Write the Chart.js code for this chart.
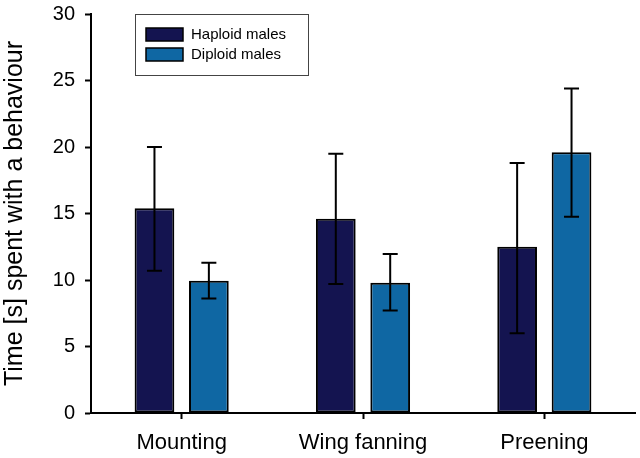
<!DOCTYPE html>
<html>
<head>
<meta charset="utf-8">
<script src="https://cdn.jsdelivr.net/npm/chart.js@4"></script>
<style>
  html, body { margin: 0; padding: 0; background: #ffffff; }
  #wrap { width: 640px; height: 458px; position: relative; }
</style>
</head>
<body>
<div id="wrap"><canvas id="c" width="640" height="458"></canvas></div>
<script>
const categories = ['Mounting', 'Wing fanning', 'Preening'];
const seriesNames = ['Haploid males', 'Diploid males'];
const haploidMean = [15.4, 14.6, 12.5];
const haploidLow = [10.7, 9.7, 6.0];
const haploidHigh = [20.0, 19.5, 18.8];
const diploidMean = [9.95, 9.8, 19.6];
const diploidLow = [8.6, 7.7, 14.75];
const diploidHigh = [11.3, 11.95, 24.4];
const yTicks = [0, 5, 10, 15, 20, 25, 30];

const FONT = "Arial, 'Liberation Sans', Helvetica, sans-serif";

const errorBars = {
  id: 'errorBars',
  afterDatasetsDraw(chart) {
    const ctx = chart.ctx;
    const y = chart.scales.y;
    const lows = [haploidLow, diploidLow];
    const highs = [haploidHigh, diploidHigh];
    ctx.save();
    ctx.strokeStyle = '#000';
    ctx.lineWidth = 2;
    chart.data.datasets.forEach((ds, di) => {
      const meta = chart.getDatasetMeta(di);
      meta.data.forEach((bar, i) => {
        const x = bar.x;
        const yt = y.getPixelForValue(highs[di][i]);
        const yb = y.getPixelForValue(lows[di][i]);
        ctx.beginPath();
        ctx.moveTo(x, yt); ctx.lineTo(x, yb);
        ctx.moveTo(x - 7.5, yt); ctx.lineTo(x + 7.5, yt);
        ctx.moveTo(x - 7.5, yb); ctx.lineTo(x + 7.5, yb);
        ctx.stroke();
      });
    });
    ctx.restore();
  }
};

const boxLegend = {
  id: 'boxLegend',
  afterDraw(chart) {
    const ctx = chart.ctx;
    ctx.save();
    ctx.strokeStyle = '#444';
    ctx.lineWidth = 1;
    ctx.strokeRect(135.5, 14.5, 173, 61);
    chart.data.datasets.forEach((ds, i) => {
      const top = 28 + i * 20;
      ctx.fillStyle = ds.backgroundColor;
      ctx.fillRect(146, top, 37, 13);
      ctx.strokeStyle = '#000';
      ctx.lineWidth = 1.5;
      ctx.strokeRect(146, top, 37, 13);
      ctx.fillStyle = '#000';
      ctx.font = '15px ' + FONT;
      ctx.textBaseline = 'middle';
      ctx.textAlign = 'left';
      ctx.fillText(ds.label, 191, top + 7);
    });
    ctx.restore();
  }
};

new Chart(document.getElementById('c'), {
  type: 'bar',
  data: {
    labels: categories,
    datasets: [
      { label: seriesNames[0], data: haploidMean, backgroundColor: '#141450', borderColor: '#000', borderWidth: 2, borderSkipped: false },
      { label: seriesNames[1], data: diploidMean, backgroundColor: '#0f67a3', borderColor: '#000', borderWidth: 2, borderSkipped: false }
    ]
  },
  options: {
    responsive: false,
    animation: false,
    devicePixelRatio: 1,
    layout: { padding: { left: 0, right: 5, top: 14, bottom: 0 } },
    datasets: { bar: { categoryPercentage: 0.6, barPercentage: 0.73 } },
    plugins: { legend: { display: false }, tooltip: { enabled: false } },
    scales: {
      x: {
        offset: true,
        grid: { offset: false, drawOnChartArea: false, drawTicks: true, tickLength: 6, tickWidth: 2, tickColor: '#000' },
        border: { display: true, color: '#000', width: 2 },
        ticks: { color: '#000', font: { family: FONT, size: 22 }, padding: 11, maxRotation: 0 },
        afterFit(s) { s.height = 45; s.paddingLeft = 0; s.paddingRight = 0; }
      },
      y: {
        min: 0, max: 30,
        afterBuildTicks(s) { s.ticks = yTicks.map(v => ({ value: v })); },
        grid: { drawOnChartArea: false, drawTicks: true, tickLength: 6, tickWidth: 2, tickColor: '#000' },
        border: { display: true, color: '#000', width: 2 },
        ticks: { color: '#000', font: { family: FONT, size: 20 }, padding: 10 },
        title: { display: true, text: 'Time [s] spent with a behaviour', color: '#000', font: { family: FONT, size: 25 }, padding: { top: 0, bottom: 0 } },
        afterFit(s) { s.width = 91; s.paddingTop = 0; s.paddingBottom = 0; }
      }
    }
  },
  plugins: [errorBars, boxLegend]
});
</script>
</body>
</html>
